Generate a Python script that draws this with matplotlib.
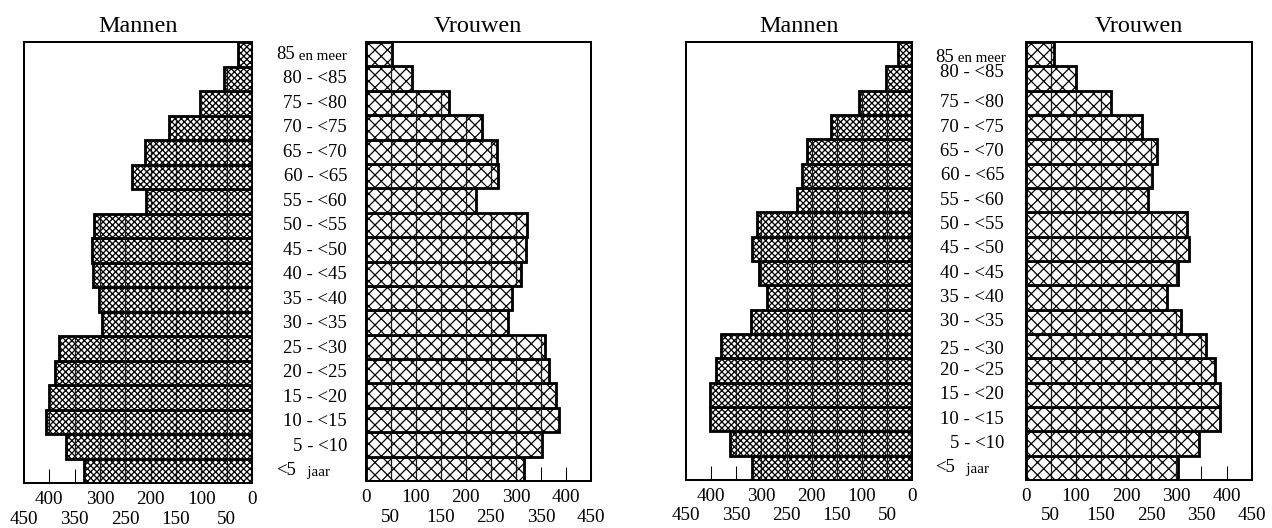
import matplotlib
matplotlib.use('Agg')
import matplotlib.pyplot as plt
from matplotlib.ticker import FixedLocator, FixedFormatter
from matplotlib.transforms import blended_transform_factory

plt.rcParams['font.family'] = ['Liberation Serif', 'DejaVu Serif']
plt.rcParams['hatch.linewidth'] = 0.6

# ---- data (bottom to top) ----
age_groups = ['<5 jaar', '5 - <10', '10 - <15', '15 - <20', '20 - <25', '25 - <30',
              '30 - <35', '35 - <40', '40 - <45', '45 - <50', '50 - <55', '55 - <60',
              '60 - <65', '65 - <70', '70 - <75', '75 - <80', '80 - <85', '85 en meer']
men_left = [331, 367, 407, 400, 389, 380, 296, 301, 314, 316, 312, 210, 236, 212, 164, 103, 55, 27]
women_left = [316, 353, 387, 381, 367, 358, 284, 292, 311, 321, 322, 221, 265, 263, 232, 166, 92, 53]
men_right = [318, 362, 402, 402, 390, 380, 321, 288, 305, 319, 309, 230, 219, 209, 162, 105, 53, 28]
women_right = [304, 346, 386, 387, 376, 359, 309, 281, 304, 325, 322, 244, 251, 261, 232, 170, 100, 56]
major_ticks = [0, 100, 200, 300, 400]
minor_ticks = [50, 150, 250, 350, 450]
x_max = 450

W, H = 1272, 528
DPI = 150
fig = plt.figure(figsize=(W / DPI, H / DPI), dpi=DPI)


def add_ax(l, r, t, b):
    return fig.add_axes([l / W, 1 - b / H, (r - l) / W, (b - t) / H])


def panel(ax, values, hatch, hatch_lw, title, invert):
    n = len(values)
    ys = list(range(n))
    bars = ax.barh(ys, values, height=1.0, color='white', edgecolor='black',
                   hatch=hatch, linewidth=1.35, zorder=2)
    for p in bars:
        if hasattr(p, 'set_hatch_linewidth'):
            p.set_hatch_linewidth(hatch_lw)
    # interior grid lines at every 50 inside each bar
    for y, v in zip(ys, values):
        g = [m for m in major_ticks + minor_ticks if 0 < m < v]
        if g:
            ax.vlines(g, y - 0.5, y + 0.5, color='#1a1a1a', linewidth=0.6, zorder=2.5)
    ax.set_ylim(-0.5, n - 0.5)
    if invert:
        ax.set_xlim(x_max, 0)
    else:
        ax.set_xlim(0, x_max)
    ax.set_yticks([])
    ax.xaxis.set_major_locator(FixedLocator(major_ticks))
    ax.xaxis.set_minor_locator(FixedLocator(minor_ticks))
    ax.xaxis.set_major_formatter(FixedFormatter([str(t) for t in major_ticks]))
    ax.xaxis.set_minor_formatter(FixedFormatter([str(t) for t in minor_ticks]))
    ax.tick_params(axis='x', which='major', direction='in', length=6.5, width=0.5,
                   pad=4.0, labelsize=9.2)
    ax.tick_params(axis='x', which='minor', direction='in', length=6.5, width=0.5,
                   pad=13.2, labelsize=9.2)
    for s in ax.spines.values():
        s.set_linewidth(0.95)
    ax.set_title(title, fontsize=11.6, pad=5)


def age_labels(ax, x_right, x_left, y_shift):
    tr = blended_transform_factory(fig.transFigure, ax.transData)
    for i, lab in enumerate(age_groups):
        y = i + y_shift.get(i, 0.0)
        if lab.endswith(' en meer') or lab.endswith(' jaar'):
            if lab.endswith(' en meer'):
                main, small = lab[:-len(' en meer')], ' en meer'
            else:
                main, small = lab[:-len(' jaar')], '   jaar'
            t = ax.text(x_left / W, y, main, transform=tr, ha='left', va='center',
                        fontsize=9.0, clip_on=False)
            ax.annotate(small, xy=(1, 0.19), xycoords=t, ha='left', va='baseline',
                        fontsize=7.2, annotation_clip=False)
        else:
            ax.text(x_right / W, y, lab, transform=tr, ha='right', va='center',
                    fontsize=9.0, clip_on=False)


ax1 = add_ax(24, 252, 42, 483)
ax2 = add_ax(365.5, 591, 42, 481)
ax3 = add_ax(686, 912.3, 42, 480)
ax4 = add_ax(1025.7, 1251.7, 42, 480)

panel(ax1, men_left, 'xxxxxxxx', 0.62, 'Mannen', True)
panel(ax2, women_left, 'xxxx', 0.6, 'Vrouwen', False)
panel(ax3, men_right, 'xxxxxxxx', 0.62, 'Mannen', True)
panel(ax4, women_right, 'xxxx', 0.6, 'Vrouwen', False)

age_labels(ax1, 347, 276, {})
age_labels(ax3, 1004, 935, {17: -0.12, 16: 0.24, 5: -0.12})

fig.savefig('out.png', dpi=DPI, facecolor='white')
